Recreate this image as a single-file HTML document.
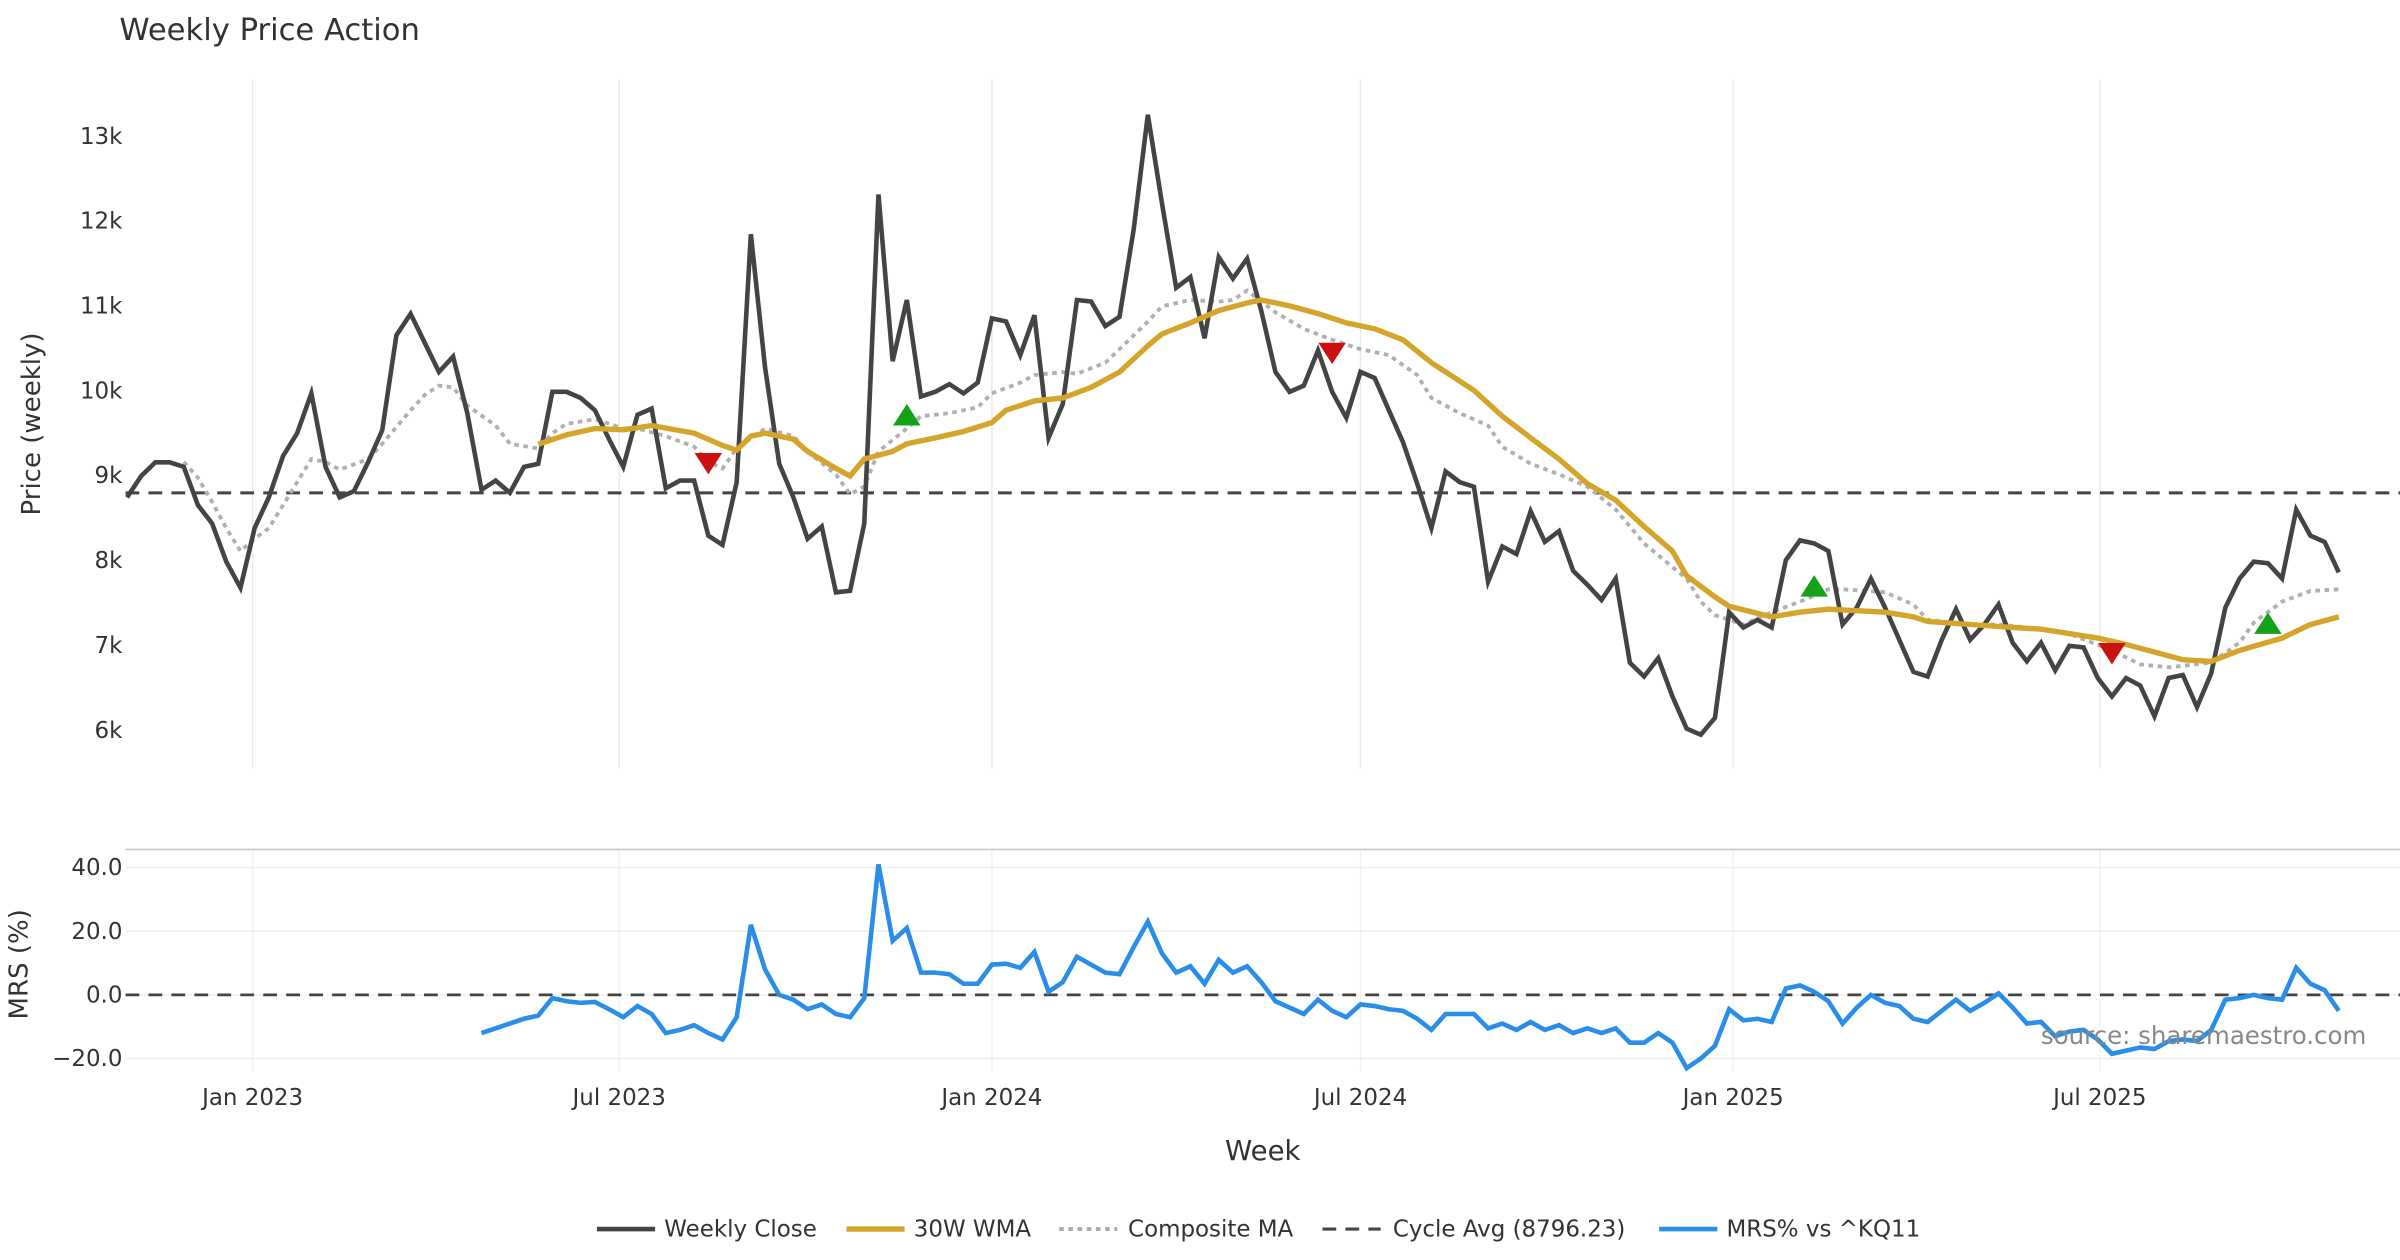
<!DOCTYPE html>
<html><head><meta charset="utf-8"><style>
html,body{margin:0;padding:0;background:#fff;}
svg{display:block;font-family:"DejaVu Sans","Liberation Sans",sans-serif;}
</style></head><body>
<svg id="chart" width="2400" height="1260" viewBox="0 0 1568 823.2" xmlns="http://www.w3.org/2000/svg">
<text x="78" y="26" font-size="20" fill="#333">Weekly Price Action</text>
<g id="grid"></g>
<g id="main"></g>
<g id="mrs"></g>
<g id="axes"></g>
<text x="26" y="277" font-size="17" fill="#333" text-anchor="middle" transform="rotate(-90 26 277)">Price (weekly)</text>
<text x="18" y="630" font-size="17" fill="#333" text-anchor="middle" transform="rotate(-90 18 630)">MRS (%)</text>
<text x="825" y="758" font-size="18" fill="#333" text-anchor="middle">Week</text>
<text x="1546" y="682" font-size="16" fill="#888" text-anchor="end">source: sharemaestro.com</text>
<g font-size="15" fill="#333">
 <g><line x1="390" y1="803" x2="428" y2="803" stroke="#444" stroke-width="3"/><text x="434" y="808">Weekly Close</text></g>
 <g><line x1="553" y1="803" x2="591" y2="803" stroke="#d4a52a" stroke-width="3.5"/><text x="597" y="808">30W WMA</text></g>
 <g><line x1="692" y1="803" x2="730" y2="803" stroke="#aaa" stroke-width="2.5" stroke-dasharray="3,3"/><text x="737" y="808">Composite MA</text></g>
 <g><line x1="864" y1="803" x2="902" y2="803" stroke="#444" stroke-width="2" stroke-dasharray="9,6"/><text x="910" y="808">Cycle Avg (8796.23)</text></g>
 <g><line x1="1084" y1="803" x2="1122" y2="803" stroke="#2a8ee8" stroke-width="3"/><text x="1128" y="808">MRS% vs ^KQ11</text></g>
</g>
</svg>
<script>
const price=[8743,8995,9157,9157,9103,8652,8436,7985,7678,8382,8743,9230,9500,9970,9103,8743,8815,9157,9536,10655,10907,10565,10222,10403,9735,8833,8941,8797,9103,9139,9987,9987,9915,9770,9428,9103,9717,9789,8851,8941,8941,8292,8183,8923,11845,10276,9139,8743,8256,8400,7624,7642,8436,12314,10348,11070,9933,9987,10078,9969,10096,10853,10817,10420,10889,9446,9843,11070,11052,10763,10871,11900,13253,12206,11214,11340,10619,11575,11322,11557,10943,10222,9987,10060,10474,9987,9681,10222,10150,9771,9392,8905,8382,9049,8923,8869,7750,8165,8075,8580,8219,8346,7877,7714,7534,7786,6794,6632,6848,6397,6018,5946,6145,7389,7209,7299,7209,8003,8237,8201,8111,7245,7444,7786,7444,7065,6686,6632,7065,7426,7065,7245,7480,7029,6812,7029,6704,6993,6975,6614,6397,6614,6524,6163,6614,6650,6271,6668,7444,7786,7985,7967,7786,8598,8292,8219,7859];
const wmaWeeks=[29,31,33,35,37,40,42,43,44,45,47,48,50,51,52,54,55,57,59,61,62,64,66,68,70,72,73,75,77,79,80,82,84,86,88,90,92,95,97,99,101,103,105,107,109,110,112,113,116,118,120,124,126,127,130,133,135,139,141,143,145,147,149,152,154,156];
const wmaValues=[9370,9480,9555,9540,9590,9500,9355,9300,9465,9500,9430,9285,9085,8995,9195,9285,9375,9445,9520,9625,9770,9880,9915,10040,10220,10530,10670,10800,10945,11035,11070,11000,10910,10800,10730,10600,10330,10005,9700,9445,9195,8905,8710,8400,8110,7820,7570,7460,7335,7390,7425,7390,7335,7280,7245,7210,7190,7085,7010,6920,6830,6810,6940,7085,7245,7335];
const compWeeks=[4,5,6,7,8,9,10,11,13,14,15,17,18,20,21,22,23,24,26,27,29,30,31,33,35,36,38,40,41,42,43,45,47,48,50,51,52,53,55,56,58,60,61,63,64,66,67,69,70,72,73,75,77,78,79,81,83,85,87,89,91,92,94,96,97,99,101,103,105,107,110,111,112,114,116,118,120,121,124,126,127,130,132,134,137,140,142,144,147,149,150,152,154,156];
const compValues=[9160,8975,8690,8380,8110,8255,8380,8650,9195,9160,9070,9195,9375,9770,9950,10060,10040,9825,9590,9375,9320,9500,9610,9665,9555,9555,9465,9340,9160,9085,9320,9555,9465,9285,9013,8780,8870,9285,9555,9700,9735,9805,9970,10095,10185,10220,10200,10330,10490,10815,10995,11070,11050,11070,11180,10925,10730,10600,10490,10420,10185,9915,9735,9590,9340,9140,9015,8870,8600,8200,7785,7515,7355,7245,7390,7515,7660,7660,7625,7480,7300,7245,7245,7210,7135,6940,6775,6740,6795,7030,7265,7515,7640,7660];
const cycleAvg=8796.23;
const signalWeeks=[41,55,85,119,140,151];
const signalValues=[9140,9717,10440,7700,6900,7260];
const signalTypes=["down","up","down","up","down","up"];
const mrs=[-12,-10.5,-9,-7.5,-6.5,-1,-2,-2.5,-2.2,-4.5,-7,-3.5,-6,-12,-11,-9.5,-12,-14,-7,22,8,0,-1.5,-4.5,-3,-6,-7,-1,41,17,21,7,7,6.5,3.5,3.5,9.5,9.8,8.5,13.5,1,4,12,9.5,7,6.5,15,23,13,7,9,3.5,11,7,9,4,-2,-4,-6,-1.5,-5,-7,-3,-3.5,-4.5,-5,-7.5,-11,-6,-6,-6,-10.5,-9,-11,-8.5,-11,-9.5,-12,-10.5,-12,-10.5,-15,-15,-12,-15,-23,-20,-16,-4.5,-8,-7.5,-8.5,2,3,1,-2,-9,-4,0,-2.5,-3.5,-7.5,-8.5,-5,-1.5,-5,-2.5,0.5,-4,-9,-8.5,-13,-11.5,-11,-14,-18.5,-17.5,-16.5,-17,-14.5,-14,-14.5,-11,-1.5,-1,0,-1,-1.5,8.5,3.5,1.5,-5];
const priceTicks=[6000,7000,8000,9000,10000,11000,12000,13000];
const priceTickLabels=["6k","7k","8k","9k","10k","11k","12k","13k"];
const mrsTicks=[-20,0,20,40];
const mrsTickLabels=["\u221220.0","0.0","20.0","40.0"];
const dateTicks=["2023-01-01","2023-07-01","2024-01-01","2024-07-01","2025-01-01","2025-07-01"];
const dateTickLabels=["Jan 2023","Jul 2023","Jan 2024","Jul 2024","Jan 2025","Jul 2025"];

const NS="http://www.w3.org/2000/svg";
const X0=83,X1=1528,N=price.length;
const xW=i=>X0+i*(X1-X0)/(N-1);
const startDate=new Date("2022-10-31");
const xD=d=>xW((new Date(d)-startDate)/(7*864e5));
const yP=v=>89+(13000-v)*0.05543;
const yM=v=>650-v*2.08;
function mk(tag,attrs,parent){const e=document.createElementNS(NS,tag);for(const k in attrs)e.setAttribute(k,attrs[k]);parent.appendChild(e);return e;}
const grid=document.getElementById('grid'),main=document.getElementById('main'),mrsG=document.getElementById('mrs'),axes=document.getElementById('axes');

dateTicks.forEach((d,k)=>{
 const x=xD(d);
 let l=mk('line',{x1:x,x2:x,y1:52,y2:502,stroke:'#ececec','stroke-width':1},grid);
 
 
 l=mk('line',{x1:x,x2:x,y1:556,y2:700,stroke:'#f2f2f2','stroke-width':1},grid);
 
 
 const t=mk('text',{x:x,y:722,'font-size':15,fill:'#333','text-anchor':'middle'},axes);
 t.textContent=dateTickLabels[k];
 
 
});
priceTicks.forEach((v,k)=>{
 const t=mk('text',{x:80,y:yP(v)+5,'font-size':15,fill:'#333','text-anchor':'end'},axes);
 t.textContent=priceTickLabels[k];
 
 
});
const sep=mk('line',{x1:82,x2:1568,y1:555,y2:555,stroke:'#cccccc','stroke-width':1.2},grid);


mrsTicks.forEach((v,k)=>{
 const y=yM(v);
 const l=mk('line',{x1:82,x2:1568,y1:y,y2:y,stroke:'#eeeeee','stroke-width':1},grid);
 
 
 const t=mk('text',{x:80,y:y+5,'font-size':15,fill:'#333','text-anchor':'end'},axes);
 t.textContent=mrsTickLabels[k];
 
 
});

const cy=mk('line',{x1:82,x2:1568,y1:yP(cycleAvg),y2:yP(cycleAvg),stroke:'#444','stroke-width':2,'stroke-dasharray':'9,6'},main);



const comp=mk('polyline',{points:compWeeks.map((w,i)=>xW(w)+','+yP(compValues[i])).join(' '),fill:'none',stroke:'#b0b0b0','stroke-width':2.5,'stroke-dasharray':'3,3'},main);


const close=mk('polyline',{points:price.map((v,i)=>xW(i)+','+yP(v)).join(' '),fill:'none',stroke:'#444','stroke-width':3,'stroke-linejoin':'miter'},main);


const wma=mk('polyline',{points:wmaWeeks.map((w,i)=>xW(w)+','+yP(wmaValues[i])).join(' '),fill:'none',stroke:'#d4a52a','stroke-width':3.5},main);



signalWeeks.forEach((w,i)=>{
 const x=xW(w),y=yP(signalValues[i]);
 const pts=signalTypes[i]==='up'?`${x-9},${y+7} ${x+9},${y+7} ${x},${y-7}`:`${x-9},${y-7} ${x+9},${y-7} ${x},${y+7}`;
 const p=mk('polygon',{points:pts,fill:signalTypes[i]==='up'?'#15a11a':'#cc1111'},main);
 
 
});

const z=mk('line',{x1:82,x2:1568,y1:yM(0),y2:yM(0),stroke:'#444','stroke-width':1.8,'stroke-dasharray':'9,6'},mrsG);


const off=N-mrs.length;
const ml=mk('polyline',{points:mrs.map((v,i)=>xW(i+off)+','+yM(v)).join(' '),fill:'none',stroke:'#2a8ee8','stroke-width':3},mrsG);


</script>
</body></html>
